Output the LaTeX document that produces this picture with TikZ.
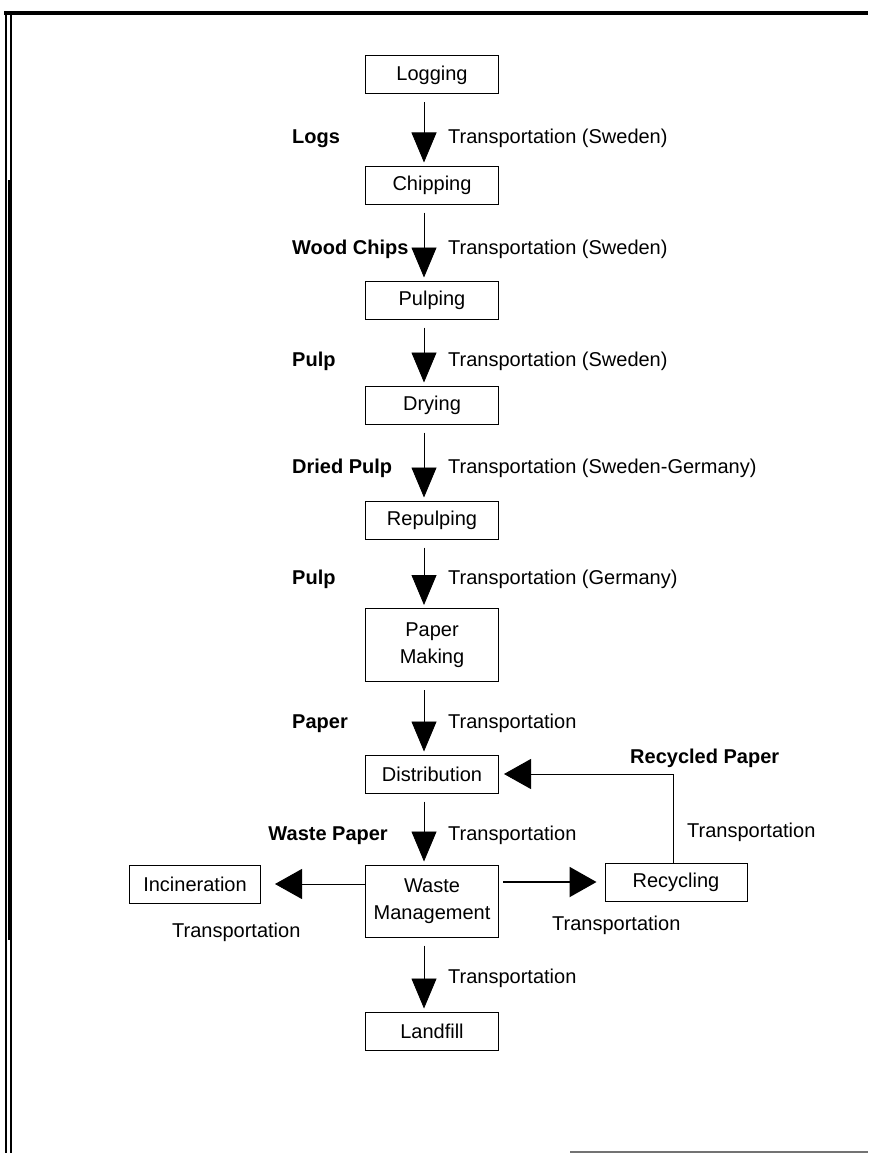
\documentclass[tikz,border=0pt]{standalone}
\usepackage{fontspec}
\setmainfont{Liberation Sans}
\usetikzlibrary{arrows.meta}
\tikzset{
  stage/.style={draw, line width=1pt, minimum width=133pt, minimum height=38pt,
    inner sep=2pt, align=center, font=\fontsize{20}{27}\selectfont},
  flow/.style={-{Triangle[width=25pt,length=30pt]}, line width=0.8pt,
    shorten <=8pt, shorten >=3pt},
  side/.style={-{Triangle[width=30pt,length=27pt]}, line width=1pt},
  tlabel/.style={anchor=west, inner sep=0pt, text height=14pt, text depth=4pt,
    font=\fontsize{20}{22}\selectfont},
  mlabel/.style={tlabel, font=\fontsize{20}{22}\selectfont\bfseries},
}
\begin{document}
\begin{tikzpicture}[x=1pt,y=-1pt]
\useasboundingbox (0,0) rectangle (868,1153);
% Rahmen
\draw[line width=4pt] (4,13) -- (868,13);
\draw[line width=1.2pt] (6,13) -- (6,1153);
\draw[line width=1.2pt] (11,13) -- (11,1153);
\draw[line width=4pt] (10,180) -- (10,940);
\draw[line width=1.5pt, black!55] (570,1152) -- (868,1152);
% Prozesskette
\node[stage] (log) at (432,75) {Logging};
\node[stage] (chip) at (432,185) {Chipping};
\node[stage] (pulp) at (432,300) {Pulping};
\node[stage] (dry) at (432,405) {Drying};
\node[stage] (repulp) at (432,520) {Repulping};
\node[stage, minimum height=73pt] (paper) at (432,645) {Paper\\Making};
\node[stage] (dist) at (432,774) {Distribution};
\node[stage, minimum height=72pt] (waste) at (432,901) {Waste\\Management};
\node[stage] (land) at (432,1031) {Landfill};
\node[stage, minimum width=131pt] (incin) at (195,884) {Incineration};
\node[stage, minimum width=142pt] (recyc) at (676,882) {Recycling};
% Pfeile
\foreach \a/\b in {log/chip, chip/pulp, pulp/dry, dry/repulp, repulp/paper,
    paper/dist, dist/waste, waste/land}
  \draw[flow] ([xshift=-8pt]\a.south) -- ([xshift=-8pt]\b.north);
\draw[side, shorten >=14pt] (waste.west |- incin.east) -- (incin.east);
\draw[side, line width=2pt, shorten <=4pt, shorten >=8pt]
  (waste.east |- recyc.west) -- (recyc.west);
\draw[side, shorten >=5pt] ([xshift=-3pt]recyc.north) |- (dist.east);
% Materialfluesse
\node[mlabel] (mlogs) at (292,138) {Logs};
\node[mlabel] (mchips) at (292,249) {Wood Chips};
\node[mlabel] (mpulp) at (292,361) {Pulp};
\node[mlabel] (mdried) at (292,468) {Dried Pulp};
\node[mlabel] (mpulpb) at (292,579) {Pulp};
\node[mlabel] (mpaper) at (292,723) {Paper};
\node[mlabel, anchor=east] (mwaste) at (388,835) {Waste Paper};
\node[mlabel] (mrecyc) at (630,758) {Recycled Paper};
% Transport
\node[tlabel] (t1) at (448,138) {Transportation (Sweden)};
\node[tlabel] (t2) at (448,249) {Transportation (Sweden)};
\node[tlabel] (t3) at (448,361) {Transportation (Sweden)};
\node[tlabel] (t4) at (448,468) {Transportation (Sweden-Germany)};
\node[tlabel] (t5) at (448,579) {Transportation (Germany)};
\node[tlabel] (t6) at (448,723) {Transportation};
\node[tlabel] (t7) at (448,835) {Transportation};
\node[tlabel] (t8) at (448,978) {Transportation};
\node[tlabel] (t9) at (172,932) {Transportation};
\node[tlabel] (t10) at (552,925) {Transportation};
\node[tlabel] (t11) at (687,832) {Transportation};
\end{tikzpicture}
\end{document}
